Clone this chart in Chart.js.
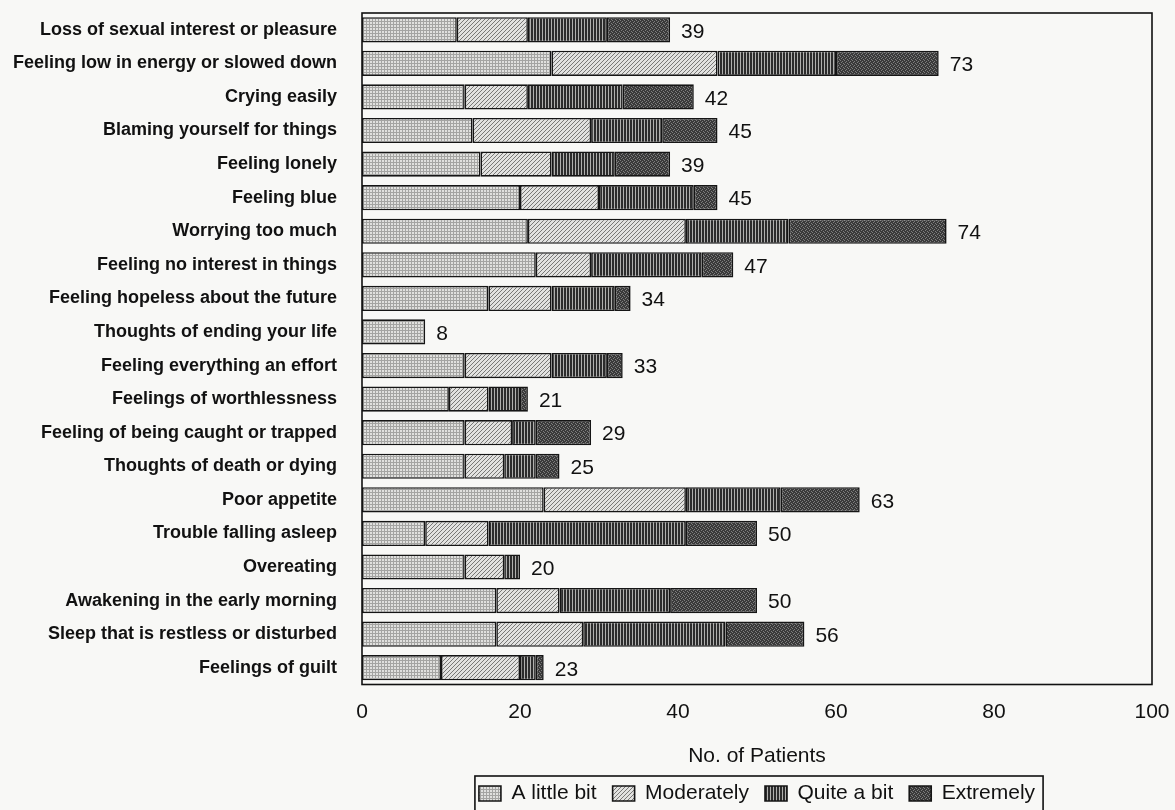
<!DOCTYPE html>
<html lang="en">
<head>
    <meta charset="UTF-8">
    <title>Symptoms - No. of Patients</title>
    <script src="https://cdn.jsdelivr.net/npm/chart.js"></script>
    <style>
        body { margin: 0; background: #f8f8f6; }
        .chart-box { width: 1175px; height: 810px; }
    </style>
</head>
<body>
    <div class="chart-box">
        <canvas id="symptomChart"></canvas>
    </div>

    <script>
        // categories, top to bottom
        const categories = [
            'Loss of sexual interest or pleasure',
            'Feeling low in energy or slowed down',
            'Crying easily',
            'Blaming yourself for things',
            'Feeling lonely',
            'Feeling blue',
            'Worrying too much',
            'Feeling no interest in things',
            'Feeling hopeless about the future',
            'Thoughts of ending your life',
            'Feeling everything an effort',
            'Feelings of worthlessness',
            'Feeling of being caught or trapped',
            'Thoughts of death or dying',
            'Poor appetite',
            'Trouble falling asleep',
            'Overeating',
            'Awakening in the early morning',
            'Sleep that is restless or disturbed',
            'Feelings of guilt'
        ];

        const littleBit  = [12, 24, 13, 14, 15, 20, 21, 22, 16, 8, 13, 11, 13, 13, 23, 8, 13, 17, 17, 10];
        const moderately = [9, 21, 8, 15, 9, 10, 20, 7, 8, 0, 11, 5, 6, 5, 18, 8, 5, 8, 11, 10];
        const quiteABit  = [10, 15, 12, 9, 8, 12, 13, 14, 8, 0, 7, 4, 3, 4, 12, 25, 2, 14, 18, 2];
        const extremely  = [8, 13, 9, 7, 7, 3, 20, 4, 2, 0, 2, 1, 7, 3, 10, 9, 0, 11, 10, 1];

        const seriesNames = ['A little bit', 'Moderately', 'Quite a bit', 'Extremely'];
        const xTicks = [0, 20, 40, 60, 80, 100];

        const FONT = '"Liberation Sans", Arial, sans-serif';

        // small fill patterns, like the old print hatching
        function makePattern(w, h, draw) {
            const c = document.createElement('canvas');
            c.width = w;
            c.height = h;
            const g = c.getContext('2d');
            draw(g);
            return g.createPattern(c, 'repeat');
        }

        const patLittle = makePattern(3, 3, g => {
            g.fillStyle = '#e0e0de';
            g.fillRect(0, 0, 3, 3);
            g.fillStyle = '#a4a4a2';
            g.fillRect(0, 0, 3, 1);
            g.fillRect(0, 0, 1, 3);
        });
        const patModerate = makePattern(4, 4, g => {
            g.fillStyle = '#e2e2e0';
            g.fillRect(0, 0, 4, 4);
            g.fillStyle = '#787876';
            for (let i = 0; i < 4; i++) g.fillRect(i, 3 - i, 1, 1);
        });
        const patQuite = makePattern(3, 1, g => {
            g.fillStyle = '#2c2c2c';
            g.fillRect(0, 0, 2, 1);
            g.fillStyle = '#b0b0ae';
            g.fillRect(2, 0, 1, 1);
        });
        const patExtreme = makePattern(4, 4, g => {
            g.fillStyle = '#3a3a3a';
            g.fillRect(0, 0, 4, 4);
            g.fillStyle = '#7e7e7e';
            g.fillRect(0, 0, 1, 1);
            g.fillRect(2, 1, 1, 1);
            g.fillRect(1, 2, 1, 1);
            g.fillRect(3, 3, 1, 1);
        });

        const fills = [patLittle, patModerate, patQuite, patExtreme];
        const seriesData = [littleBit, moderately, quiteABit, extremely];
        const totals = categories.map((c, i) => seriesData.reduce((s, arr) => s + arr[i], 0));

        // totals at the end of each bar
        const totalLabels = {
            id: 'totalLabels',
            afterDatasetsDraw(chart) {
                const ctx = chart.ctx;
                const xs = chart.scales.x;
                const ys = chart.scales.y;
                ctx.save();
                ctx.font = '21px ' + FONT;
                ctx.fillStyle = '#111';
                ctx.textAlign = 'left';
                ctx.textBaseline = 'middle';
                totals.forEach((t, i) => {
                    ctx.fillText(String(t), xs.getPixelForValue(t) + 11, ys.getPixelForValue(i) + 2);
                });
                ctx.restore();
            }
        };

        // frame round the plot and round the legend
        const frames = {
            id: 'frames',
            afterDraw(chart) {
                const ctx = chart.ctx;
                const a = chart.chartArea;
                ctx.save();
                ctx.strokeStyle = '#111';
                ctx.lineWidth = 1.6;
                ctx.strokeRect(a.left, a.top, a.right - a.left, a.bottom - a.top);

                const boxes = chart.legend.legendHitBoxes;
                if (boxes && boxes.length) {
                    const x0 = Math.min(...boxes.map(b => b.left)) - 4;
                    const x1 = Math.max(...boxes.map(b => b.left + b.width)) + 8;
                    const y0 = Math.min(...boxes.map(b => b.top)) - 7;
                    const y1 = Math.max(...boxes.map(b => b.top + b.height)) + 7;
                    ctx.strokeRect(x0, y0, x1 - x0, y1 - y0);
                }
                ctx.restore();
            }
        };

        const ctx = document.getElementById('symptomChart').getContext('2d');
        new Chart(ctx, {
            type: 'bar',
            data: {
                labels: categories,
                datasets: seriesNames.map((name, k) => ({
                    label: name,
                    data: seriesData[k].map(v => v === 0 ? null : v),
                    backgroundColor: fills[k],
                    borderColor: '#151515',
                    borderWidth: 1.6,
                    borderSkipped: false,
                    categoryPercentage: 1,
                    barPercentage: 0.75
                }))
            },
            options: {
                indexAxis: 'y',
                responsive: true,
                maintainAspectRatio: false,
                animation: false,
                layout: { padding: { top: 13, right: 23, bottom: -4, left: 0 } },
                scales: {
                    x: {
                        stacked: true,
                        min: 0,
                        max: 100,
                        afterBuildTicks: s => { s.ticks = xTicks.map(v => ({ value: v })); },
                        afterFit: s => {
                            s.height = 82.5;
                            s.paddingLeft = 0;
                            s.paddingRight = 0;
                        },
                        ticks: {
                            font: { family: FONT, size: 21 },
                            color: '#111',
                            padding: 15,
                            maxRotation: 0
                        },
                        grid: { display: false, drawTicks: false },
                        border: { display: false },
                        title: {
                            display: true,
                            text: 'No. of Patients',
                            font: { family: FONT, size: 21 },
                            color: '#111',
                            padding: { top: 0, bottom: -2 }
                        }
                    },
                    y: {
                        stacked: true,
                        afterFit: s => {
                            s.width = 362;
                            s.paddingTop = 0;
                            s.paddingBottom = 0;
                        },
                        ticks: {
                            font: { family: FONT, size: 18, weight: 'bold' },
                            color: '#111',
                            padding: 25,
                            autoSkip: false
                        },
                        grid: { display: false, drawTicks: false },
                        border: { display: false }
                    }
                },
                plugins: {
                    legend: {
                        position: 'bottom',
                        fullSize: false,
                        labels: {
                            boxWidth: 22,
                            boxHeight: 15,
                            padding: 16,
                            color: '#111',
                            font: { family: FONT, size: 21 }
                        }
                    },
                    tooltip: { enabled: false }
                }
            },
            plugins: [totalLabels, frames]
        });
    </script>
</body>
</html>
